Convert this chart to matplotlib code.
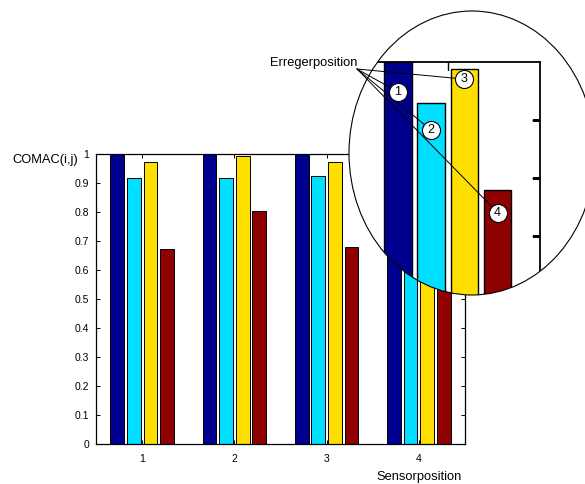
import numpy as np
import matplotlib
matplotlib.use('Agg')
import matplotlib.pyplot as plt
import matplotlib.markers as mmarkers
from matplotlib.patches import Ellipse
from matplotlib.ticker import FormatStrFormatter

plt.rcParams['font.family'] = ['Liberation Sans', 'DejaVu Sans']

# COMAC values per sensor position, one list per excitation position
sensor_pos = [1, 2, 3, 4]
comac_1 = [1.0, 1.0, 1.0, 1.0]
comac_2 = [0.916, 0.916, 0.923, 0.929]
comac_3 = [0.972, 0.994, 0.971, 0.987]
comac_4 = [0.672, 0.802, 0.678, 0.778]
series_names = ['1', '2', '3', '4']
y_ticks = [0, 0.1, 0.2, 0.3, 0.4, 0.5, 0.6, 0.7, 0.8, 0.9, 1.0]

series = [comac_1, comac_2, comac_3, comac_4]
colors = ['#00008F', '#00DFFF', '#FFDF00', '#8F0000']
offsets = np.array([-0.27, -0.09, 0.09, 0.27])
bar_w = 0.15

W, H = 585, 484
fig = plt.figure(figsize=(W / 100, H / 100), dpi=100)


def px_box(x0, y0, x1, y1):
    # pixel box (origin top-left) -> figure fraction rect
    return [x0 / W, 1 - y1 / H, (x1 - x0) / W, (y1 - y0) / H]


def draw_bars(a, lw, clip=None):
    for k, vals in enumerate(series):
        bars = a.bar(np.array(sensor_pos) + offsets[k], vals, bar_w,
                     color=colors[k], edgecolor='black', linewidth=lw)
        if clip is not None:
            for b in bars:
                b.set_clip_path(clip)


# main axes
ax_l, ax_t, ax_r, ax_b = 96, 154, 465, 444
ax = fig.add_axes(px_box(ax_l, ax_t, ax_r, ax_b))
draw_bars(ax, 0.7)
ax.set_xlim(0.5, 4.5)
ax.set_ylim(0, 1)
ax.set_xticks(sensor_pos)
ax.set_yticks(y_ticks)
ax.yaxis.set_major_formatter(FormatStrFormatter('%g'))
ax.tick_params(direction='in', length=3, width=0.7, top=True, right=True,
               labelsize=7.5, colors='black')
ax.tick_params(axis='y', pad=5)
ax.tick_params(axis='x', pad=7)
for s in ax.spines.values():
    s.set_linewidth(0.9)
ax.set_xlabel('Sensorposition', fontsize=9.3)
ax.xaxis.set_label_coords(0.875, -0.093)
fig.text(12 / W, 1 - 160 / H, 'COMAC(i,j)', fontsize=9.3, ha='left', va='center')

# magnifier: 2x zoom around a fixed pixel point, shown inside an ellipse
fx, fy, zoom = 390, 246.3, 2.0
ex0, ey0, ex1, ey1 = 349, 11, 595, 295


def px_to_data(px, py):
    return (0.5 + (px - ax_l) / (ax_r - ax_l) * 4.0,
            (ax_b - py) / (ax_b - ax_t))


xa, y_top = px_to_data(fx + (ex0 - fx) / zoom, fy + (ey0 - fy) / zoom)
xb, y_bot = px_to_data(fx + (ex1 - fx) / zoom, fy + (ey1 - fy) / zoom)

axin = fig.add_axes(px_box(ex0, ey0, ex1, ey1))
axin.set_xlim(xa, xb)
axin.set_ylim(y_bot, y_top)
axin.axis('off')

lens = Ellipse((0.5, 0.5), 1, 1, transform=axin.transAxes,
               facecolor='white', edgecolor='none', zorder=0)
axin.add_patch(lens)
draw_bars(axin, 1.0, clip=lens)

frame = axin.plot([4.5, 4.5], [0, 1], color='black', lw=1.3, zorder=3)
frame += axin.plot([0.5, 4.5], [1, 1], color='black', lw=1.3, zorder=3)
for v in y_ticks[:-1]:
    frame += axin.plot(4.5, v, marker=mmarkers.TICKLEFT, ms=5.5, mew=1.0,
                       color='black', zorder=3)
for x in sensor_pos:
    frame += axin.plot(x, 1.0, marker=mmarkers.TICKDOWN, ms=5.5, mew=1.0,
                       color='black', zorder=3)
for ln in frame:
    ln.set_clip_path(lens)

axin.add_patch(Ellipse((0.5, 0.5), 1, 1, transform=axin.transAxes,
                       fill=False, edgecolor='black', lw=0.8, zorder=10,
                       clip_on=False))

# numbered markers for the excitation positions
label_y = [0.948, 0.882, 0.970, 0.740]
anchor = (357, H - 69)
for k in range(4):
    xk = sensor_pos[3] + offsets[k]
    axin.annotate('', xy=(xk, label_y[k]), xycoords='data',
                  xytext=anchor, textcoords='figure pixels',
                  arrowprops=dict(arrowstyle='-', color='black', lw=0.7,
                                  shrinkA=0, shrinkB=0),
                  annotation_clip=False, zorder=11)
    axin.plot(xk, label_y[k], 'o', ms=13, mfc='white', mec='black', mew=0.8,
              zorder=12, clip_on=False)
    axin.text(xk, label_y[k], series_names[k], ha='center', va='center',
              fontsize=9, zorder=13)

fig.text(357 / W, 1 - 62.7 / H, 'Erregerposition', fontsize=9.3,
         ha='right', va='center')

fig.savefig('out.png', dpi=100)
